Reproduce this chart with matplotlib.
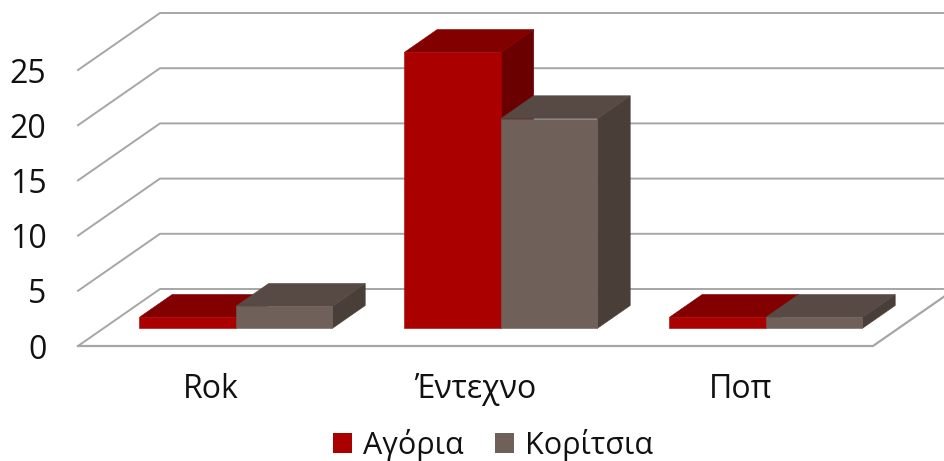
#!/usr/bin/env python
import matplotlib
matplotlib.use('Agg')
import matplotlib.pyplot as plt
from matplotlib.patches import Polygon, Patch

categories = ['Rok', 'Έντεχνο', 'Ποπ']
boys = [1, 25, 1]
girls = [2, 19, 1]
y_ticks = [0, 5, 10, 15, 20, 25]
series_names = ['Αγόρια', 'Κορίτσια']

plt.rcParams['font.family'] = ['Open Sans', 'DejaVu Sans']

W, H = 944, 461
# pixel scale of the front plane
px_per_cat = 265.0
px_per_val = 11.04
# oblique offset of the full floor depth, in pixels
depth_x = 82.0
depth_y = 57.0
# bars sit in this slice of the depth
bar_d0 = 0.31
bar_d1 = 0.71
bar_w = 96.5 / px_per_cat

grid_col = '#a6a6a6'
boy_cols = ('#ab0000', '#820000', '#6b0000')
girl_cols = ('#70605a', '#574a45', '#4a3f38')


def proj(x, v, d):
    # front plane position + depth -> data coords
    return (x + d * depth_x / px_per_cat, v + d * depth_y / px_per_val)


def face(ax, pts, col):
    ax.add_patch(Polygon(pts, closed=True, facecolor=col, edgecolor=col, lw=0.4))


def bar3d(ax, x0, x1, v, cols):
    front, top, side = cols
    d0, d1 = bar_d0, bar_d1
    face(ax, [proj(x1, 0, d0), proj(x1, 0, d1), proj(x1, v, d1), proj(x1, v, d0)], side)
    face(ax, [proj(x0, v, d0), proj(x0, v, d1), proj(x1, v, d1), proj(x1, v, d0)], top)
    face(ax, [proj(x0, 0, d0), proj(x1, 0, d0), proj(x1, v, d0), proj(x0, v, d0)], front)


fig = plt.figure(figsize=(W / 100.0, H / 100.0), dpi=100)

# axes spans x 70..944 px, y 0..356 px
ax = fig.add_axes([70.0 / W, (H - 356.0) / H, (W - 70.0) / W, 356.0 / H])
x_left = -0.5
x_right = len(categories) - 0.5
ax.set_xlim(x_left - 8.0 / px_per_cat, x_left + (W - 78.0) / px_per_cat)
ax.set_ylim(-10.0 / px_per_val, 346.0 / px_per_val)
ax.patch.set_alpha(0)
for s in ax.spines.values():
    s.set_visible(False)

# back wall grid and left wall diagonals
for t in y_ticks:
    p0 = proj(x_left, t, 0)
    p1 = proj(x_left, t, 1)
    p2 = proj(x_right + 1, t, 1)
    ax.plot([p0[0], p1[0], p2[0]], [p0[1], p1[1], p2[1]], color=grid_col, lw=1.4, zorder=1)

# floor front edge and right diagonal
p0 = proj(x_left, 0, 0)
p1 = proj(x_right, 0, 0)
p2 = proj(x_right, 0, 1)
ax.plot([p0[0], p1[0], p2[0]], [p0[1], p1[1], p2[1]], color=grid_col, lw=1.6, zorder=1)

for i in range(len(categories)):
    bar3d(ax, i - bar_w, i, boys[i], boy_cols)
    bar3d(ax, i, i + bar_w, girls[i], girl_cols)

ax.set_yticks(y_ticks)
ax.set_yticklabels([str(t) for t in y_ticks])
ax.set_xticks(range(len(categories)))
ax.set_xticklabels(categories)
ax.tick_params(axis='y', length=0, pad=17, labelsize=23, labelcolor='#111111')
ax.tick_params(axis='x', length=0, pad=12, labelsize=23, labelcolor='#111111')

handles = [Patch(facecolor=boy_cols[0], edgecolor='none'),
           Patch(facecolor=girl_cols[0], edgecolor='none')]
fig.legend(handles, series_names, loc='center', bbox_to_anchor=(493.0 / W, 1 - 445.0 / H),
           ncol=2, frameon=False, fontsize=22, handlelength=0.65, handleheight=0.65,
           handletextpad=0.36, columnspacing=1.0, labelcolor='#111111',
           borderpad=0, borderaxespad=0)

fig.savefig('out.png', dpi=100)
plt.close(fig)
